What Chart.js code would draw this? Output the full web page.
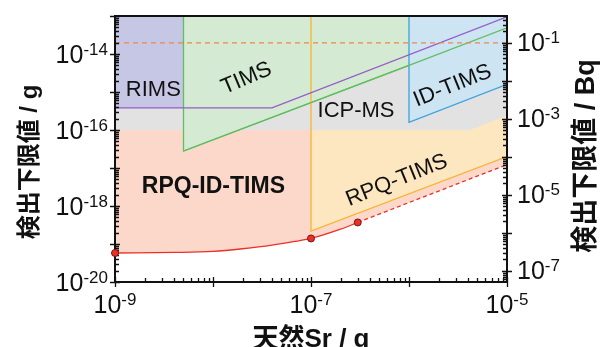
<!DOCTYPE html>
<html>
<head>
<meta charset="utf-8">
<title>検出下限値</title>
<script src="https://cdn.jsdelivr.net/npm/chart.js@4.4.1/dist/chart.umd.min.js"></script>
<style>
  html, body { margin: 0; padding: 0; background: #fff; }
  #wrap { width: 604px; height: 347px; }
</style>
</head>
<body>
<div id="wrap"><canvas id="lodChart" width="604" height="347"></canvas></div>
<script>
// axis ranges (g) and conversion to Bq for the right axis
const xMin = 1e-9, xMax = 1e-5;
const yMin = 1e-20, yMax = 1e-13;
const bqPerGram = 5.1e12;

// decades that carry a label
const xLabelExps = [-9, -7, -5];
const yLabelExps = [-20, -18, -16, -14];
const y2LabelExps = [-7, -5, -3, -1];

// detection limits (g)
const icpX = [1e-9, 4.2e-6, 1e-5];
const icpY = [1e-16, 1e-16, 2.4e-16];

const rimsX = [1e-9, 4e-8, 1e-5];
const rimsY = [3.8e-16, 3.8e-16, 9.5e-14];
const rimsAreaX = [1e-9, 5e-9];

const timsX = [5e-9, 1e-6, 1e-5];
const timsY = [2.8e-17, 5e-15, 4.9e-14];

const idTimsX = [1e-6, 1e-5];
const idTimsY = [1.6e-16, 1.6e-15];

const rpqTimsX = [1e-7, 1e-5];
const rpqTimsY = [2.2e-19, 2e-17];

const rpqIdX = [1e-9, 4e-9, 1e-8, 2e-8, 4e-8, 7e-8, 1e-7, 2e-7, 3e-7];
const rpqIdY = [5.8e-20, 6.0e-20, 6.4e-20, 7.5e-20, 9.3e-20, 1.18e-19, 1.4e-19, 2.45e-19, 3.7e-19];
const rpqIdExtX = [3e-7, 1e-5];
const rpqIdExtY = [3.7e-19, 1.23e-17];
const rpqIdTop = 1e-16;

const measuredX = [1e-9, 1e-7, 3e-7];
const measuredY = [5.8e-20, 1.4e-19, 3.7e-19];

const refLineBq = 0.1;

// --- styling ---
const LATIN = '"Liberation Sans", Arial, sans-serif';
const JP = '"Liberation Sans", "Noto Sans CJK JP", sans-serif';
const tickBaseSize = 25;
const tickSupSize = 17;

const colors = {
    rims: 'rgb(198,198,229)',
    tims: 'rgb(212,234,210)',
    timsLine: 'rgb(98,190,98)',
    idTims: 'rgb(205,228,243)',
    idTimsLine: 'rgb(62,160,222)',
    icp: 'rgb(226,226,226)',
    rpqId: 'rgb(252,216,202)',
    rpqTims: 'rgb(253,231,192)',
    rpqTimsLine: 'rgb(247,180,50)',
    purple: 'rgb(150,92,200)',
    red: 'rgb(234,48,40)',
    refLine: 'rgb(240,135,75)'
};

// label anchors in data units
const regionLabels = [
    { text: 'RIMS', x: 2.46e-9, y: 1.13e-15, angle: 0, bold: false, size: 22 },
    { text: 'TIMS', x: 2.2e-8, y: 2.28e-15, angle: -23, bold: false, size: 22 },
    { text: 'ICP-MS', x: 2.88e-7, y: 3.14e-16, angle: 0, bold: false, size: 22 },
    { text: 'ID-TIMS', x: 2.78e-6, y: 1.45e-15, angle: -22, bold: false, size: 22 },
    { text: 'RPQ-ID-TIMS', x: 1.01e-8, y: 3.16e-18, angle: 0, bold: true, size: 23 },
    { text: 'RPQ-TIMS', x: 7.5e-7, y: 4.7e-18, angle: -22, bold: false, size: 22 }
];

const pts = (xs, ys) => xs.map((x, i) => ({ x, y: ys[i] }));

function isDecade(v) {
    const e = Math.log10(v);
    return Math.abs(e - Math.round(e)) < 1e-6;
}

function logTicks(scale) {
    const ticks = [];
    const lo = Math.floor(Math.log10(scale.min));
    const hi = Math.ceil(Math.log10(scale.max));
    for (let e = lo; e <= hi; e++) {
        for (let k = 1; k <= 9; k++) {
            const v = k * Math.pow(10, e);
            if (v >= scale.min * 0.999999 && v <= scale.max * 1.000001) {
                ticks.push({ value: v });
            }
        }
    }
    scale.ticks = ticks;
}

function drawPower(ctx, exp, x, baseY, supY, align) {
    const sup = String(exp);
    ctx.font = `${tickBaseSize}px ${LATIN}`;
    const wb = ctx.measureText('10').width;
    ctx.font = `${tickSupSize}px ${LATIN}`;
    const ws = ctx.measureText(sup).width;
    let x0 = x;
    if (align === 'right') x0 = x - wb - ws;
    if (align === 'center') x0 = x - (wb + ws) / 2;
    ctx.textAlign = 'left';
    ctx.textBaseline = 'alphabetic';
    ctx.font = `${tickBaseSize}px ${LATIN}`;
    ctx.fillText('10', x0, baseY);
    ctx.font = `${tickSupSize}px ${LATIN}`;
    ctx.fillText(sup, x0 + wb, supY);
}

const axisDecor = {
    id: 'axisDecor',
    afterDraw(chart) {
        const { ctx, chartArea: a, scales } = chart;
        ctx.save();

        // region names
        ctx.fillStyle = '#111';
        regionLabels.forEach((l) => {
            const px = scales.x.getPixelForValue(l.x);
            const py = scales.y.getPixelForValue(l.y);
            ctx.save();
            ctx.translate(px, py);
            ctx.rotate(l.angle * Math.PI / 180);
            ctx.font = `${l.bold ? 'bold ' : ''}${l.size}px ${LATIN}`;
            ctx.textAlign = 'center';
            ctx.textBaseline = 'middle';
            ctx.fillText(l.text, 0, 0);
            ctx.restore();
        });

        // frame
        ctx.strokeStyle = '#111';
        ctx.lineWidth = 2;
        ctx.strokeRect(a.left, a.top, a.right - a.left, a.bottom - a.top);

        // tick marks
        ctx.lineWidth = 1.3;
        ctx.beginPath();
        scales.x.ticks.forEach((t) => {
            const px = Math.round(scales.x.getPixelForValue(t.value)) + 0.5;
            const major = isDecade(t.value);
            ctx.moveTo(px, a.bottom + (major ? 5 : 0));
            ctx.lineTo(px, a.bottom - (major ? 5 : 4));
        });
        scales.y.ticks.forEach((t) => {
            const py = Math.round(scales.y.getPixelForValue(t.value)) + 0.5;
            const major = isDecade(t.value);
            ctx.moveTo(a.left - (major ? 5 : 0), py);
            ctx.lineTo(a.left + (major ? 5 : 4), py);
        });
        scales.y2.ticks.forEach((t) => {
            const py = Math.round(scales.y2.getPixelForValue(t.value)) + 0.5;
            const major = isDecade(t.value);
            ctx.moveTo(a.right + (major ? 5 : 0), py);
            ctx.lineTo(a.right - (major ? 5 : 4), py);
        });
        ctx.stroke();

        // measured points sit on top of the frame
        ctx.fillStyle = colors.red;
        ctx.strokeStyle = 'rgb(120,20,20)';
        ctx.lineWidth = 1;
        chart.getDatasetMeta(layers.length - 1).data.forEach((p) => {
            ctx.beginPath();
            ctx.arc(p.x, p.y, 3.5, 0, Math.PI * 2);
            ctx.fill();
            ctx.stroke();
        });

        // tick labels
        ctx.fillStyle = '#111';
        xLabelExps.forEach((e) => {
            const px = scales.x.getPixelForValue(Math.pow(10, e));
            drawPower(ctx, e, px, a.bottom + 31, a.bottom + 23, 'center');
        });
        yLabelExps.forEach((e) => {
            const py = scales.y.getPixelForValue(Math.pow(10, e));
            drawPower(ctx, e, a.left - 7, py + 8.5, py + 0.5, 'right');
        });
        y2LabelExps.forEach((e) => {
            const py = scales.y2.getPixelForValue(Math.pow(10, e));
            drawPower(ctx, e, a.right + 10, py + 8, py + 0.5, 'left');
        });

        // axis titles
        ctx.textAlign = 'center';
        ctx.textBaseline = 'middle';
        ctx.save();
        ctx.translate(a.left - 85, a.top + 146);
        ctx.rotate(-Math.PI / 2);
        ctx.font = `bold 24px ${JP}`;
        ctx.fillText('検出下限値 / g', 0, 0);
        ctx.restore();

        ctx.save();
        ctx.translate(a.right + 80, a.top + 140);
        ctx.rotate(-Math.PI / 2);
        ctx.font = `bold 27px ${JP}`;
        ctx.fillText('検出下限値 / Bq', 0, 0);
        ctx.restore();

        ctx.textBaseline = 'alphabetic';
        ctx.font = `bold 26px ${JP}`;
        ctx.fillText('天然Sr / g', (a.left + a.right) / 2, chart.height);

        ctx.restore();
    }
};

const lineBase = { pointRadius: 0, borderWidth: 1.3, fill: false };

// listed bottom to top
const layers = [
    { ...lineBase, data: pts(rpqIdX, rpqIdY), borderColor: colors.red, backgroundColor: colors.rpqId,
      fill: { value: rpqIdTop }, cubicInterpolationMode: 'monotone' },
    { ...lineBase, data: pts(rpqIdExtX, rpqIdExtY), borderColor: colors.red, backgroundColor: colors.rpqId,
      fill: { value: rpqIdTop }, borderDash: [4, 3] },
    { ...lineBase, data: pts(rpqTimsX, rpqTimsY), borderWidth: 0, backgroundColor: colors.rpqTims, fill: 'end' },
    { ...lineBase, data: pts(icpX, icpY), borderWidth: 0, backgroundColor: colors.icp, fill: 'end' },
    { ...lineBase, data: pts(rimsAreaX, [rimsY[0], rimsY[0]]), borderWidth: 0, backgroundColor: colors.rims, fill: 'end' },
    { ...lineBase, data: [{ x: timsX[0], y: yMax }, ...pts(timsX.slice(0, 2), timsY.slice(0, 2))],
      borderColor: colors.timsLine, backgroundColor: colors.tims, fill: 'end' },
    { ...lineBase, data: [{ x: idTimsX[0], y: yMax }, ...pts(idTimsX, idTimsY)],
      borderColor: colors.idTimsLine, backgroundColor: colors.idTims, fill: 'end' },
    { ...lineBase, data: [{ x: rpqTimsX[0], y: yMax }, ...pts(rpqTimsX, rpqTimsY)], borderColor: colors.rpqTimsLine },
    { ...lineBase, data: pts(rimsX, rimsY), borderColor: colors.purple },
    { ...lineBase, data: pts(timsX, timsY), borderColor: colors.timsLine },
    { ...lineBase, data: [{ x: xMin, y: refLineBq }, { x: xMax, y: refLineBq }], yAxisID: 'y2',
      borderColor: colors.refLine, borderDash: [5, 4], borderWidth: 1.2 },
    // measured points: positioned by the scales, painted in the plugin above the frame
    { data: pts(measuredX, measuredY), showLine: false, pointRadius: 0, clip: false }
];
layers.forEach((d, i) => { d.order = layers.length - i; });

new Chart(document.getElementById('lodChart'), {
    type: 'line',
    data: { datasets: layers },
    options: {
        responsive: false,
        devicePixelRatio: 1,
        animation: false,
        events: [],
        layout: { padding: { top: 16, left: 0, right: 0, bottom: 0 } },
        plugins: { legend: { display: false }, tooltip: { enabled: false } },
        scales: {
            x: {
                type: 'logarithmic', position: 'bottom', min: xMin, max: xMax,
                grid: { display: false }, border: { display: false }, ticks: { display: false },
                afterBuildTicks: logTicks,
                afterFit: (s) => { s.height = 65; }
            },
            y: {
                type: 'logarithmic', position: 'left', min: yMin, max: yMax,
                grid: { display: false }, border: { display: false }, ticks: { display: false },
                afterBuildTicks: logTicks,
                afterFit: (s) => { s.width = 115; }
            },
            y2: {
                type: 'logarithmic', position: 'right', min: yMin * bqPerGram, max: yMax * bqPerGram,
                grid: { display: false }, border: { display: false }, ticks: { display: false },
                afterBuildTicks: logTicks,
                afterFit: (s) => { s.width = 97; }
            }
        }
    },
    plugins: [axisDecor]
});
</script>
</body>
</html>
